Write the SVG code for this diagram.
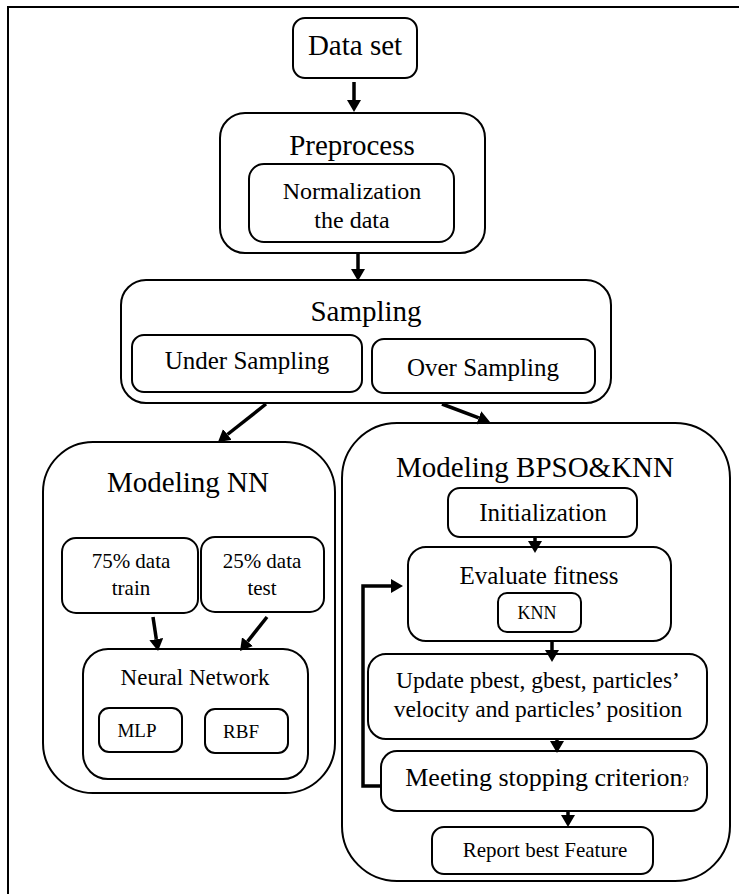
<svg xmlns="http://www.w3.org/2000/svg" width="739" height="894" viewBox="0 0 739 894">
<style>
.box{fill:#fff;stroke:#000;stroke-width:2}
.frame{fill:none;stroke:#000;stroke-width:2}
.t{font-family:'Liberation Serif',serif;fill:#000;text-anchor:middle}
.con{stroke:#000;stroke-width:3.5;fill:none}
</style>
<defs>
<marker id="ah" viewBox="0 0 12 14" markerWidth="12" markerHeight="14" refX="0" refY="7" orient="auto" markerUnits="userSpaceOnUse">
<path d="M0,0 L12,7 L0,14 z" fill="#000"/>
</marker>
</defs>
<rect class="frame" x="8" y="7" width="740" height="900"/>

<g id="dataset">
<rect class="box" x="293" y="18" width="124" height="60" rx="12"/>
<text class="t" x="355" y="55" font-size="29">Data set</text>
</g>

<g id="preprocess">
<rect class="box" x="220" y="113" width="265" height="140" rx="25"/>
<text class="t" x="352" y="155" font-size="29">Preprocess</text>
<g id="normalization">
<rect class="box" x="249" y="164" width="205" height="78" rx="15"/>
<text class="t" x="352" y="199" font-size="24">Normalization</text>
<text class="t" x="352" y="228" font-size="24">the data</text>
</g>
</g>

<g id="sampling">
<rect class="box" x="121" y="280" width="490" height="123" rx="25"/>
<text class="t" x="366" y="321" font-size="29">Sampling</text>
<g id="under">
<rect class="box" x="132" y="335" width="230" height="57" rx="12"/>
<text class="t" x="247" y="369" font-size="25">Under Sampling</text>
</g>
<g id="over">
<rect class="box" x="372" y="339" width="223" height="54" rx="12"/>
<text class="t" x="483" y="376" font-size="25">Over Sampling</text>
</g>
</g>

<g id="modelingNN">
<rect class="box" x="43" y="442" width="292" height="351" rx="50"/>
<text class="t" x="188" y="492" font-size="29">Modeling NN</text>
<g id="train">
<rect class="box" x="62" y="538" width="136" height="75" rx="14"/>
<text class="t" x="131" y="568" font-size="21">75% data</text>
<text class="t" x="131" y="595" font-size="21">train</text>
</g>
<g id="test">
<rect class="box" x="201" y="537" width="123" height="75" rx="14"/>
<text class="t" x="262" y="568" font-size="21">25% data</text>
<text class="t" x="262" y="595" font-size="21">test</text>
</g>
<g id="neural">
<rect class="box" x="83" y="649" width="225" height="130" rx="25"/>
<text class="t" x="195" y="685" font-size="23">Neural Network</text>
<g id="mlp">
<rect class="box" x="99" y="708" width="83" height="44" rx="10"/>
<text class="t" x="137" y="737" font-size="19">MLP</text>
</g>
<g id="rbf">
<rect class="box" x="205" y="709" width="83" height="44" rx="10"/>
<text class="t" x="241" y="738" font-size="19">RBF</text>
</g>
</g>
</g>

<g id="modelingBPSO">
<rect class="box" x="342" y="423" width="388" height="458" rx="55"/>
<text class="t" x="535" y="477" font-size="29">Modeling BPSO&amp;KNN</text>
<g id="init">
<rect class="box" x="448" y="488" width="189" height="49" rx="12"/>
<text class="t" x="543" y="521" font-size="25">Initialization</text>
</g>
<g id="evaluate">
<rect class="box" x="408" y="547" width="263" height="94" rx="18"/>
<text class="t" x="539" y="584" font-size="25">Evaluate fitness</text>
<g id="knn">
<rect class="box" x="498" y="593" width="83" height="39" rx="9"/>
<text class="t" x="537" y="619" font-size="18">KNN</text>
</g>
</g>
<g id="update">
<rect class="box" x="368" y="654" width="339" height="85" rx="18"/>
<text class="t" x="538" y="688" font-size="23.5">Update pbest, gbest, particles’</text>
<text class="t" x="538" y="717" font-size="23.5">velocity and particles’ position</text>
</g>
<g id="meeting">
<rect class="box" x="381" y="751" width="326" height="60" rx="16"/>
<text class="t" x="547" y="786" font-size="26">Meeting stopping criterion<tspan font-size="14">?</tspan></text>
</g>
<g id="report">
<rect class="box" x="432" y="827" width="221" height="47" rx="12"/>
<text class="t" x="545" y="857" font-size="21">Report best Feature</text>
</g>
</g>

<g id="connectors">
<path class="con" d="M354,82 V100" marker-end="url(#ah)"/>
<path class="con" d="M358,254 V269" marker-end="url(#ah)"/>
<path class="con" d="M266,404 L227.4,434.5" marker-end="url(#ah)"/>
<path class="con" d="M442,404 L478.8,417.8" marker-end="url(#ah)"/>
<path class="con" d="M153,617 L156.3,639.1" marker-end="url(#ah)"/>
<path class="con" d="M267,617 L247.5,641.6" marker-end="url(#ah)"/>
<path class="con" d="M535,537 V541" marker-end="url(#ah)"/>
<path class="con" d="M552,641 V650" marker-end="url(#ah)"/>
<path class="con" d="M557,739 V741" marker-end="url(#ah)"/>
<path class="con" d="M568,811 V815" marker-end="url(#ah)"/>
<path class="con" d="M381,786 H363 V586 H391" marker-end="url(#ah)"/>
</g>
</svg>
